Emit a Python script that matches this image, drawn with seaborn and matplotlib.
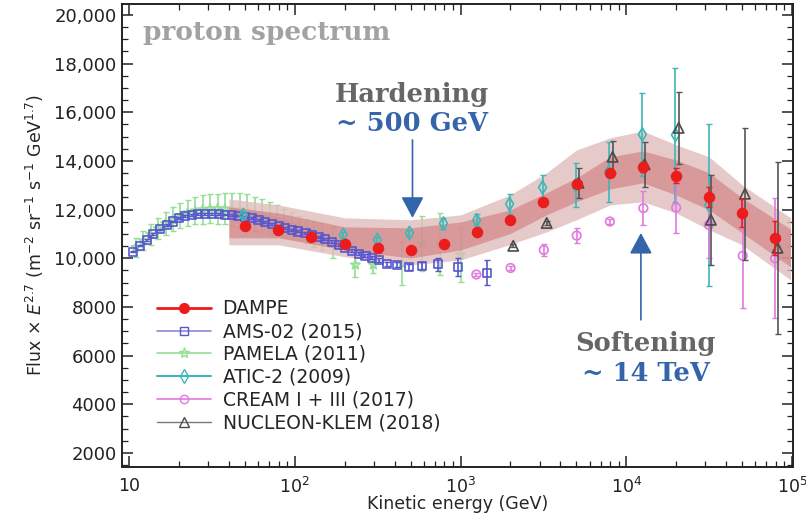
import matplotlib
matplotlib.use("Agg")
import matplotlib.pyplot as plt
import numpy as np
import seaborn as sns
from matplotlib.lines import Line2D
from matplotlib.ticker import FixedLocator, FuncFormatter, LogLocator, MultipleLocator, NullFormatter

# ---- data (E in GeV, flux x E^2.7) ----
DAMPE_E = [50.1, 79.4, 125.9, 199.5, 316.2, 501.2, 794.3, 1259, 1995, 3162,
           5012, 7943, 12589, 19953, 31623, 50119, 79433]
DAMPE_F = [11330, 11170, 10890, 10580, 10430, 10320, 10590, 11080, 11580, 12320,
           13060, 13510, 13760, 13390, 12520, 11860, 10840]
DAMPE_ERR = [40, 40, 40, 40, 45, 50, 55, 60, 70, 85, 100, 130, 200, 310, 410, 575, 700]

BAND_E = [40, 80, 200, 500, 1000, 2000, 3300, 5000, 8000, 12600, 20000, 31600, 50000, 98000]
OUTER_LO = [10550, 10550, 10060, 9730, 9930, 10570, 11080, 11580, 12190, 12320, 11860, 11170, 10550, 9110]
OUTER_HI = [12440, 12190, 11660, 11580, 11780, 12610, 13510, 14450, 14950, 15230, 14660, 14170, 13015, 11660]
INNER_LO = [10840, 10840, 10340, 10010, 10340, 11020, 11780, 12320, 12850, 13100, 12600, 11990, 11040, 9645]
INNER_HI = [12110, 11860, 11290, 11250, 11490, 11990, 12690, 13300, 14170, 14410, 14040, 13510, 12480, 11200]

AMS_E = [10.6, 11.6, 12.8, 14.0, 15.4, 16.9, 18.3, 19.9, 21.8, 23.9, 26.2, 28.8, 31.6,
         34.7, 38.0, 41.7, 45.7, 50.2, 55.1, 60.4, 66.4, 72.8, 79.8, 87.7, 96.2, 105,
         116, 127, 139, 153, 168, 184, 202, 222, 243, 267, 293, 321, 360, 414, 487,
         586, 729, 964, 1436]
AMS_F = [10270, 10520, 10750, 10990, 11190, 11370, 11510, 11650, 11740, 11780, 11810,
         11820, 11820, 11810, 11790, 11780, 11750, 11700, 11650, 11560, 11480, 11400,
         11320, 11240, 11170, 11100, 11040, 10960, 10880, 10800, 10680, 10560, 10440,
         10310, 10190, 10100, 10020, 9930, 9780, 9730, 9650, 9690, 9750, 9650, 9410]
AMS_ERR = [30, 30, 30, 30, 30, 30, 30, 30, 30, 30, 30, 30, 30, 30, 30, 30, 30, 30, 35,
           35, 35, 35, 35, 40, 40, 40, 40, 45, 45, 45, 50, 50, 55, 55, 60, 60, 65, 70,
           80, 100, 120, 150, 280, 370, 500]

PAMELA_E = [11.0, 12.2, 13.5, 15.0, 16.6, 18.4, 20.4, 22.6, 25.1, 27.8, 30.8, 34.2,
            37.9, 42.0, 46.6, 51.7, 57.3, 63.5, 70.4, 78.1, 86.6, 96, 106, 118, 131,
            145, 171, 232, 298, 444, 587, 757, 1000]
PAMELA_F = [10450, 10720, 10980, 11220, 11420, 11600, 11760, 11870, 11950, 12000,
            12030, 12040, 12030, 12000, 11960, 11900, 11830, 11750, 11660, 11560,
            11460, 11360, 11250, 11130, 11000, 10880, 10650, 9730, 9730, 9790, 10590,
            10590, 10140]
PAMELA_ERR = [380, 400, 420, 450, 480, 500, 520, 540, 560, 580, 600, 620, 640, 680,
              720, 720, 700, 680, 650, 620, 580, 540, 500, 500, 520, 550, 620, 500,
              330, 880, 1130, 1270, 1110]

ATIC_E = [48.9, 196, 315, 492, 789, 1250, 1977, 3126, 4950, 7830, 12500, 19800, 31500]
ATIC_F = [11780, 10960, 10750, 11040, 11430, 11560, 12230, 12910, 13000, 13550, 15090,
          15070, 12190]
ATIC_ERR = [80, 120, 120, 130, 240, 250, 410, 500, 900, 1230, 1690, 2750, 3330]

CREAM_E = [1245, 2004, 3180, 5020, 7960, 12680, 20000, 31500, 50400, 79000]
CREAM_F = [9330, 9600, 10340, 10930, 11510, 12060, 12080, 11370, 10100, 10000]
CREAM_ERR = [60, 80, 250, 310, 90, 700, 1030, 1350, 2140, 2470]

NUC_E = [2080, 3310, 5150, 8270, 12900, 20700, 32400, 52000, 81800]
NUC_F = [10510, 11450, 13100, 14170, 13860, 15360, 11580, 12650, 10430]
NUC_ERR = [60, 80, 620, 660, 925, 1480, 1850, 2710, 3530]

LABELS = ["DAMPE", "AMS-02 (2015)", "PAMELA (2011)", "ATIC-2 (2009)",
          "CREAM I + III (2017)", "NUCLEON-KLEM (2018)"]

RED = "#ec1c1c"
AMS_C = "#5656cf"
PAM_C = "#95de95"
ATIC_C = "#3cb8b8"
CREAM_C = "#e07ae0"
NUC_C = "#4a4a4a"
ARROW_C = "#3465aa"

sns.set_theme(style="ticks")
plt.rcParams["font.family"] = ["DejaVu Sans"]

fig = plt.figure(figsize=(8.06, 5.18), dpi=100)
ax = fig.add_axes([0.1514, 0.0985, 0.8325, 0.8938])


def draw_series(x, y, err, color, marker, size, ecolor=None, filled=False, z=4, lw=1.2):
    ax.errorbar(x, y, yerr=err, fmt="none", ecolor=ecolor or color,
                elinewidth=1.2, capsize=2, capthick=1, zorder=z)
    sns.scatterplot(x=x, y=y, marker=marker, s=size, color=color,
                    facecolor=color if filled else "none", edgecolor=color,
                    linewidth=lw, ax=ax, zorder=z + 0.1, legend=False)


draw_series(PAMELA_E, PAMELA_F, PAMELA_ERR, PAM_C, "*", 50, z=2)

# DAMPE band (outer and inner)
ax.fill_between(BAND_E, OUTER_LO, OUTER_HI, color="#e0bcbc", alpha=0.78, lw=0, zorder=2.5)
ax.fill_between(BAND_E, INNER_LO, INNER_HI, color="#d07f7f", alpha=0.65, lw=0, zorder=2.6)

draw_series(AMS_E, AMS_F, AMS_ERR, AMS_C, "s", 34, z=3)
draw_series(ATIC_E, ATIC_F, ATIC_ERR, ATIC_C, "d", 45, z=4)
draw_series(CREAM_E, CREAM_F, CREAM_ERR, CREAM_C, "o", 38, z=4)
draw_series(NUC_E, NUC_F, NUC_ERR, NUC_C, "^", 55, ecolor="#555555", z=4.5)
draw_series(DAMPE_E, DAMPE_F, DAMPE_ERR, RED, "o", 50, filled=True, z=5)

# axes
ax.set_xscale("log")
ax.set_xlim(9.07, 1.014e5)
ax.set_ylim(1420, 20450)
ax.xaxis.set_major_locator(FixedLocator([10, 100, 1e3, 1e4, 1e5]))
ax.xaxis.set_major_formatter(FuncFormatter(
    lambda v, p: "10" if v == 10 else f"$10^{{{int(round(np.log10(v)))}}}$"))
ax.xaxis.set_minor_locator(LogLocator(base=10, subs=range(2, 10), numticks=20))
ax.xaxis.set_minor_formatter(NullFormatter())
ax.yaxis.set_major_locator(FixedLocator(list(range(2000, 20001, 2000))))
ax.yaxis.set_major_formatter(FuncFormatter(
    lambda v, p: f"{int(v):,}" if v >= 10000 else f"{int(v)}"))
ax.yaxis.set_minor_locator(MultipleLocator(500))

ax.tick_params(which="both", direction="in", top=True, right=True, colors="#222222")
ax.tick_params(which="major", length=8, width=1.1, labelsize=13)
ax.tick_params(which="minor", length=4, width=0.9)
ax.tick_params(axis="x", which="major", pad=7, labelsize=12.5)
ax.tick_params(axis="y", which="major", pad=4)
for s in ax.spines.values():
    s.set_linewidth(1.4)
    s.set_color("#222222")

ax.set_xlabel("Kinetic energy (GeV)", fontsize=12.5, labelpad=-1)
ax.set_ylabel(r"Flux $\times$ $E^{2.7}$ (m$^{-2}$ sr$^{-1}$ s$^{-1}$ GeV$^{1.7}$)",
              fontsize=12.5, labelpad=6)

# legend
handles = [
    Line2D([], [], color=RED, lw=2, marker="o", ms=7, mfc=RED, mec=RED),
    Line2D([], [], color="#8a8ad8", lw=1.2, marker="s", ms=6, mfc="none", mec=AMS_C),
    Line2D([], [], color=PAM_C, lw=1.2, marker="*", ms=8, mfc="none", mec=PAM_C),
    Line2D([], [], color=ATIC_C, lw=1.5, marker="d", ms=7, mfc="none", mec=ATIC_C),
    Line2D([], [], color=CREAM_C, lw=1.2, marker="o", ms=6, mfc="none", mec=CREAM_C),
    Line2D([], [], color="#777777", lw=1.0, marker="^", ms=7, mfc="none", mec=NUC_C),
]
ax.legend(handles, LABELS, loc="upper left", bbox_to_anchor=(0.052, 0.362),
          frameon=False, fontsize=13.5, handlelength=2.9, handletextpad=0.6,
          labelspacing=0.2, borderpad=0, borderaxespad=0)

# annotations
serif = ["DejaVu Serif"]
ax.text(0.031, 0.922, "proton spectrum", transform=ax.transAxes, family=serif,
        weight="bold", fontsize=19, color="#a2a2a2", va="baseline")
ax.text(506, 16430, "Hardening", ha="center", va="baseline", family=serif,
        weight="bold", fontsize=18.5, color="#666666")
ax.text(506, 15230, "~ 500 GeV", ha="center", va="baseline", family=serif,
        weight="bold", fontsize=18.5, color=ARROW_C)
ax.text(13100, 6190, "Softening", ha="center", va="baseline", family=serif,
        weight="bold", fontsize=18.5, color="#666666")
ax.text(13100, 4960, "~ 14 TeV", ha="center", va="baseline", family=serif,
        weight="bold", fontsize=18.5, color=ARROW_C)

arrow = dict(arrowstyle="-|>,head_length=0.65,head_width=0.35", color=ARROW_C,
             lw=1.2, mutation_scale=20, shrinkA=0, shrinkB=0)
ax.annotate("", xy=(513, 11660), xytext=(513, 14860), arrowprops=arrow, zorder=6)
ax.annotate("", xy=(12250, 11040), xytext=(12250, 7470), arrowprops=arrow, zorder=6)

fig.savefig("out.png", dpi=100)
